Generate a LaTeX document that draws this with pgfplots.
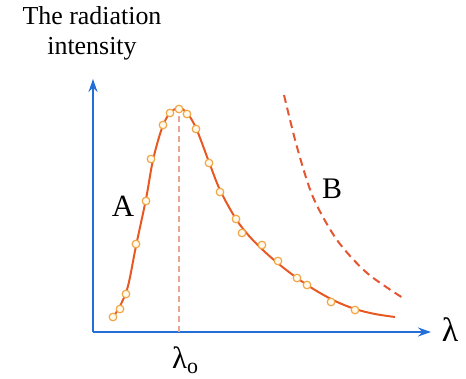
\documentclass[border=0pt]{standalone}
\usepackage{pgfplots}
\pgfplotsset{compat=1.18}
\usepackage{fontspec}
\setmainfont{Liberation Serif}
\usetikzlibrary{arrows.meta}
\definecolor{axblue}{RGB}{35,110,215}
\definecolor{curveA}{RGB}{232,88,35}
\definecolor{markedge}{RGB}{240,165,70}
\definecolor{markfill}{RGB}{255,250,235}
\definecolor{curveB}{RGB}{228,85,50}
\definecolor{vline}{RGB}{232,165,145}
\begin{document}
\begin{tikzpicture}
\begin{axis}[
  x=1bp, y=1bp,
  xmin=93, xmax=431, ymin=0, ymax=253,
  axis lines=left,
  axis line style={axblue, line width=1.9pt, -{Stealth[length=13bp,width=9bp]}},
  xtick=\empty, ytick=\empty,
  clip=false,
]
% bounding box of the whole picture
\path (axis cs:0,332) rectangle (axis cs:466,-46);
% vertical dashed line at lambda_0
\addplot[vline, line width=1.5pt, dash pattern=on 6bp off 4bp] coordinates {(179,0) (179,221)};
% curve A
\addplot[curveA, line width=2pt, smooth, tension=0.55] coordinates {
(111,12) (120,26) (128,46) (136,86) (146,133) (153,172) (162,204) (170,219) (179,224) (187,219) (196,204) (209,170) (220,142) (236,113) (250,95) (265,80) (280,67) (297,54) (315,42) (335,31) (355,23) (375,18) (395,15)};
% measured points
\addplot[only marks, mark=*, mark size=3.8bp, mark options={draw=markedge, fill=markfill, line width=1.2pt}] coordinates {
(113,15) (120,23) (126,38) (136,88) (146,131) (151,173) (163,207) (170,219) (179,223) (187,218) (196,203) (209,169) (220,140) (236,113) (242,99) (262,87) (278,71) (297,54) (307,47) (331,30) (355,22)};
% curve B
\addplot[curveB, line width=2pt, smooth, dash pattern=on 8bp off 5bp] coordinates {
(284,237) (297,185) (313,135) (337,92) (367,59) (403,34)};
% labels
\node[align=center, font=\fontsize{26}{30}\selectfont] at (axis cs:92,299) {The radiation\\intensity};
\node[font=\fontsize{31}{30}\selectfont] at (axis cs:123,126) {A};
\node[font=\fontsize{30}{30}\selectfont] at (axis cs:332,143) {B};
\node[font=\fontsize{34}{34}\selectfont] at (axis cs:450,2) {λ};
\node[font=\fontsize{31}{30}\selectfont] at (axis cs:185,-28) {λ\raisebox{-0.35ex}{\fontsize{22}{20}\selectfont o}};
\end{axis}
\end{tikzpicture}
\end{document}
